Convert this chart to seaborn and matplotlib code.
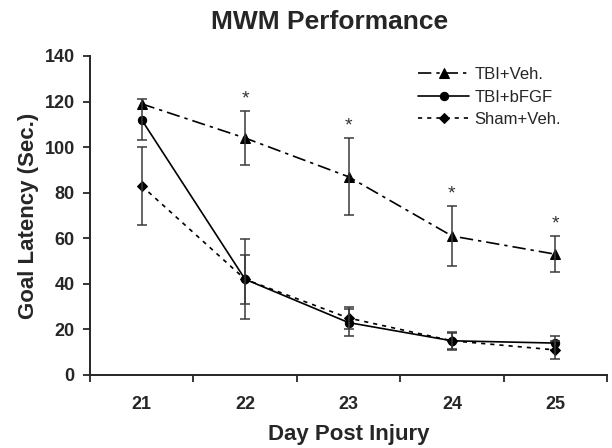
import numpy as np
import pandas as pd
import matplotlib.pyplot as plt
import seaborn as sns
from matplotlib.ticker import FixedLocator

days = [21, 22, 23, 24, 25]
groups = ['TBI+Veh.', 'TBI+bFGF', 'Sham+Veh.']

tbi_veh = [119, 104, 87, 61, 53]
tbi_veh_err = [0, 12, 17, 13, 8]
tbi_fgf = [112, 42, 23, 15, 14]
tbi_fgf_err = [9, 17.5, 6, 3.5, 3]
sham_veh = [83, 42, 25, 15, 11]
sham_veh_err = [17, 10.7, 5, 4, 4]
star_days = [22, 23, 24, 25]

sns.set_style('ticks')
plt.rcParams['font.family'] = ['Liberation Sans', 'DejaVu Sans']
plt.rcParams['font.weight'] = 'bold'

df = pd.DataFrame({
    'pos': list(range(len(days))) * 3,
    'val': tbi_veh + tbi_fgf + sham_veh,
    'err': tbi_veh_err + tbi_fgf_err + sham_veh_err,
    'group': np.repeat(groups, len(days)),
})

fig = plt.figure(figsize=(6.12, 4.48), dpi=100)
ax = fig.add_axes([0.147, 0.163, 0.845, 0.712])

styles = {
    'TBI+Veh.': dict(ls=(0, (8, 3, 2, 3)), marker='^', ms=7.5),
    'TBI+bFGF': dict(ls='-', marker='o', ms=6),
    'Sham+Veh.': dict(ls=(0, (2.5, 3)), marker='D', ms=5),
}

for g in groups:
    sub = df[df.group == g]
    st = styles[g]
    sns.lineplot(data=sub, x='pos', y='val', ax=ax, color='black', lw=1.2,
                 linestyle=st['ls'], marker=st['marker'], markersize=st['ms'],
                 markeredgecolor='black', label=g)
    # bars with zero error are skipped
    eb = sub[sub.err > 0]
    ax.errorbar(eb.pos, eb.val, yerr=eb.err, fmt='none', ecolor='#3a3a3a',
                elinewidth=1.1, capsize=3.8, capthick=1.1)

# asterisks over the TBI+Veh bars
veh = df[df.group == 'TBI+Veh.'].set_index('pos')
for d in star_days:
    i = days.index(d)
    ax.text(i, veh.val[i] + veh.err[i] + 1.5, '*', ha='center', va='bottom',
            fontsize=14, fontweight='normal', color='#333333')

ax.set_xlim(-0.5, len(days) - 0.5)
ax.set_ylim(0, 140)
ax.set_yticks(range(0, 141, 20))
ax.xaxis.set_major_locator(FixedLocator(np.arange(-0.5, len(days), 1)))
ax.xaxis.set_minor_locator(FixedLocator(range(len(days))))
ax.set_xticklabels([])
ax.set_xticklabels([str(d) for d in days], minor=True)
ax.tick_params(axis='x', which='minor', length=0, pad=15, labelsize=13)
ax.tick_params(axis='x', which='major', length=5, width=1.3, direction='out')
ax.tick_params(axis='y', length=5, width=1.3, labelsize=13, pad=6)
for s in ['left', 'bottom']:
    ax.spines[s].set_linewidth(1.4)
sns.despine(ax=ax)

ax.set_xlabel('Day Post Injury', fontsize=16, fontweight='bold', labelpad=8)
ax.set_ylabel('Goal Latency (Sec.)', fontsize=16, fontweight='bold', labelpad=4)
fig.text(0.538, 0.951, 'MWM Performance', ha='center', va='center',
         fontsize=19, fontweight='bold')

leg = ax.legend(loc='upper left', bbox_to_anchor=(0.634, 0.965), frameon=False,
                handlelength=3.1, fontsize=12, labelspacing=0.45,
                handletextpad=0.3, borderpad=0, borderaxespad=0)
for t in leg.get_texts():
    t.set_fontweight('normal')

fig.savefig('out.png', dpi=100)
